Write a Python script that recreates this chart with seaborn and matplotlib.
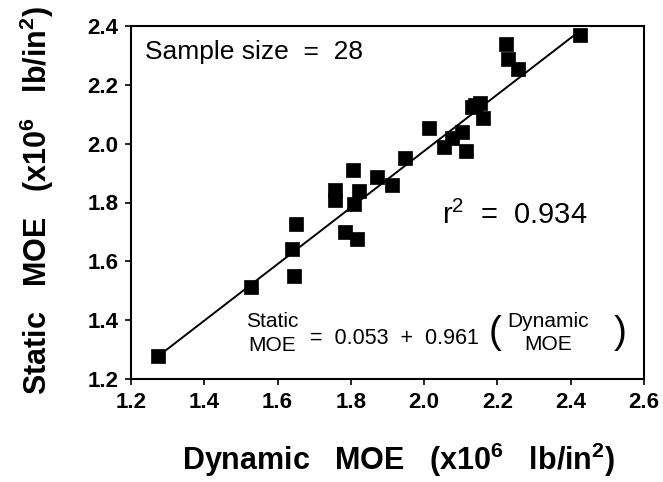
import numpy as np
import pandas as pd
import matplotlib
matplotlib.use("Agg")
import matplotlib.pyplot as plt
import seaborn as sns

# ---- data ----
dynamic_moe = [1.275, 1.527, 1.640, 1.645, 1.650, 1.758, 1.758, 1.805, 1.823, 1.809,
               1.784, 1.816, 1.871, 1.913, 1.948, 2.014, 2.055, 2.075, 2.103, 2.113,
               2.139, 2.152, 2.130, 2.160, 2.223, 2.228, 2.255, 2.425]
static_moe = [1.278, 1.514, 1.641, 1.550, 1.726, 1.843, 1.808, 1.911, 1.840, 1.795,
              1.701, 1.675, 1.888, 1.860, 1.950, 2.052, 1.988, 2.018, 2.041, 1.976,
              2.131, 2.139, 2.125, 2.088, 2.339, 2.287, 2.253, 2.369]
intercept = 0.053
slope = 0.961
r_squared = 0.934
sample_size = 28
line_x = [1.275, 2.42]
x_ticks = [1.2, 1.4, 1.6, 1.8, 2.0, 2.2, 2.4, 2.6]
y_ticks = [1.2, 1.4, 1.6, 1.8, 2.0, 2.2, 2.4]

sns.set_theme(style="ticks")
plt.rcParams["font.family"] = ["Liberation Sans", "DejaVu Sans"]
plt.rcParams["mathtext.fontset"] = "custom"
plt.rcParams["mathtext.rm"] = "Liberation Sans"
plt.rcParams["mathtext.bf"] = "Liberation Sans:bold"
for k in ["text.color", "axes.labelcolor", "xtick.color", "ytick.color",
          "axes.edgecolor"]:
    plt.rcParams[k] = "black"

df = pd.DataFrame({"dyn": dynamic_moe, "sta": static_moe})
line_df = pd.DataFrame({"dyn": line_x,
                        "sta": [intercept + slope * v for v in line_x]})

fig = plt.figure(figsize=(6.63, 4.82), dpi=100)
ax = fig.add_axes([131 / 663, 1 - 379 / 482, (644 - 131) / 663, (379 - 26) / 482])

sns.lineplot(data=line_df, x="dyn", y="sta", color="black", linewidth=1.4, ax=ax)
sns.scatterplot(data=df, x="dyn", y="sta", marker="s", s=95, color="black",
                edgecolor="black", linewidth=0.5, ax=ax, zorder=3)

ax.set_xlim(1.2, 2.6)
ax.set_ylim(1.2, 2.4)
ax.set_xticks(x_ticks)
ax.set_yticks(y_ticks)
ax.set_xticklabels([f"{v:.1f}" for v in x_ticks], fontsize=16, fontweight="bold")
ax.set_yticklabels([f"{v:.1f}" for v in y_ticks], fontsize=16, fontweight="bold")
ax.tick_params(direction="out", length=4, width=1.2, color="black", pad=5,
               labelcolor="black")
for sp in ax.spines.values():
    sp.set_visible(True)
    sp.set_linewidth(1.5)
    sp.set_color("black")

ax.set_xlabel(r"Dynamic   MOE   (x10$^{\mathbf{6}}$   lb/in$^{\mathbf{2}}$)",
              fontsize=22, fontweight="bold", color="black")
ax.set_ylabel(r"Static   MOE   (x10$^{\mathbf{6}}$   lb/in$^{\mathbf{2}}$)",
              fontsize=22, fontweight="bold", color="black")
ax.xaxis.label.set_va("baseline")
ax.xaxis.set_label_coords(0.521, -0.258)
ax.yaxis.label.set_va("center")
ax.yaxis.set_label_coords(-0.183, 0.507)

ax.text(1.238, 2.312, f"Sample size  =  {sample_size}", fontsize=19,
        ha="left", va="center")
ax.text(2.050, 1.755, r"r$^{2}$  =  " + f"{r_squared:.3f}", fontsize=21,
        ha="left", va="center")

ax.text(1.585, 1.394, "Static", fontsize=15, ha="center", va="center")
ax.text(1.585, 1.314, "MOE", fontsize=15, ha="center", va="center")
ax.text(1.689, 1.339, f"=  {intercept:.3f}  +  {slope:.3f}", fontsize=15.5,
        ha="left", va="center")
ax.text(2.193, 1.355, "(", fontsize=28, ha="center", va="center")
ax.text(2.338, 1.394, "Dynamic", fontsize=15, ha="center", va="center")
ax.text(2.338, 1.316, "MOE", fontsize=15, ha="center", va="center")
ax.text(2.535, 1.355, ")", fontsize=28, ha="center", va="center")

fig.savefig("out.png", dpi=100)
